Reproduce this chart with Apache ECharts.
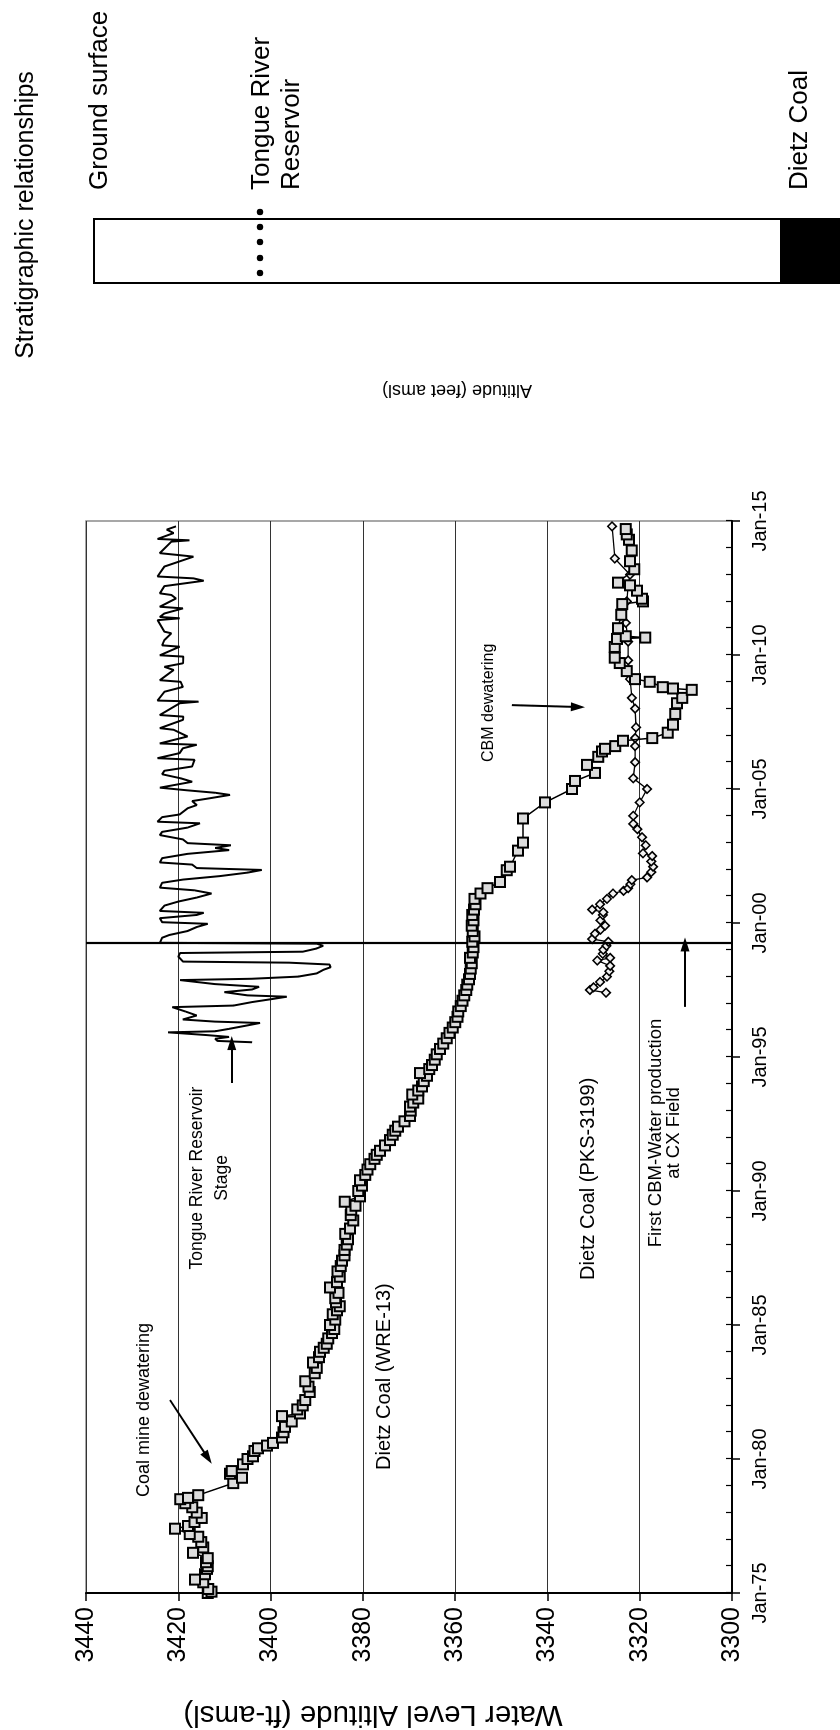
<!DOCTYPE html>
<html>
<head>
<meta charset="utf-8">
<script src="https://cdn.jsdelivr.net/npm/echarts@6/dist/echarts.min.js"></script>
<style>
html,body{margin:0;padding:0;background:#fff;width:840px;height:1730px;overflow:hidden;}
#rot{position:absolute;left:0;top:0;width:1730px;height:840px;transform-origin:0 0;transform:translate(0,1730px) rotate(-90deg);}
#chart{width:1730px;height:840px;}
</style>
</head>
<body>
<div id="rot"><div id="chart"></div></div>
<script>
// ---------- DATA (decimal year, altitude ft-amsl) ----------
const wre13 = [
[1975.00,3413.6],[1975.05,3412.8],[1975.15,3413.5],[1975.40,3414.6],[1975.50,3416.4],[1975.70,3414.2],[1975.90,3413.8],
[1976.00,3413.6],[1976.15,3414.0],[1976.30,3413.6],[1976.50,3416.8],[1976.70,3414.6],[1976.90,3415.0],[1977.10,3415.7],
[1977.20,3417.5],[1977.40,3420.7],[1977.50,3417.9],[1977.65,3416.5],[1977.80,3414.9],[1978.00,3416.0],[1978.20,3417.0],
[1978.35,3418.5],[1978.50,3419.6],[1978.55,3417.9],[1978.65,3415.7],[1979.10,3408.1],[1979.30,3406.2],[1979.45,3408.8],
[1979.55,3408.4],[1979.80,3406.0],[1980.00,3405.0],[1980.10,3403.8],[1980.30,3403.5],[1980.40,3402.7],[1980.50,3400.8],
[1980.60,3399.5],[1980.80,3397.5],[1981.00,3397.2],[1981.20,3396.9],[1981.40,3395.4],[1981.60,3397.5],[1981.70,3393.6],
[1981.85,3394.2],[1982.00,3393.0],[1982.20,3392.5],[1982.50,3391.5],[1982.70,3391.8],[1982.90,3392.5],[1983.20,3390.4],
[1983.40,3390.0],[1983.60,3390.8],[1983.80,3389.5],[1984.00,3389.3],[1984.15,3388.5],[1984.30,3387.8],[1984.50,3387.5],
[1984.70,3386.7],[1984.85,3386.2],[1985.00,3387.1],[1985.20,3386.0],[1985.40,3386.5],[1985.55,3385.6],[1985.70,3385.0],
[1985.85,3385.8],[1986.00,3386.0],[1986.20,3385.3],[1986.40,3387.1],[1986.60,3385.6],[1986.80,3385.0],[1987.00,3385.5],
[1987.20,3384.8],[1987.40,3384.5],[1987.60,3384.0],[1987.80,3384.0],[1988.00,3383.5],[1988.20,3383.2],[1988.40,3383.8],
[1988.60,3382.8],[1988.90,3382.1],[1989.10,3382.6],[1989.30,3382.5],[1989.45,3381.6],[1989.60,3383.9],[1989.80,3380.6],
[1990.00,3381.0],[1990.20,3380.2],[1990.40,3380.6],[1990.60,3379.5],[1990.80,3379.0],[1991.00,3378.4],[1991.20,3377.5],
[1991.35,3377.0],[1991.50,3376.3],[1991.70,3375.2],[1991.90,3374.1],[1992.10,3373.5],[1992.25,3373.0],[1992.40,3372.4],
[1992.60,3371.0],[1992.80,3369.8],[1993.00,3369.6],[1993.15,3369.8],[1993.30,3369.1],[1993.45,3368.0],[1993.60,3369.3],
[1993.75,3368.0],[1993.90,3367.2],[1994.10,3366.8],[1994.30,3366.1],[1994.40,3367.6],[1994.55,3365.6],[1994.70,3365.0],
[1994.90,3364.4],[1995.10,3364.0],[1995.30,3363.3],[1995.50,3362.6],[1995.70,3361.8],[1995.90,3361.2],[1996.10,3360.5],
[1996.30,3360.0],[1996.50,3359.5],[1996.70,3359.3],[1996.90,3358.8],[1997.10,3358.4],[1997.30,3358.0],[1997.50,3357.6],
[1997.70,3357.4],[1997.90,3357.0],[1998.10,3356.8],[1998.30,3356.6],[1998.50,3356.4],[1998.70,3356.8],[1998.90,3356.2],
[1999.10,3356.0],[1999.30,3356.3],[1999.50,3355.8],[1999.70,3356.2],[1999.90,3356.4],[2000.10,3356.0],[2000.30,3356.3],
[2000.50,3355.9],[2000.70,3355.6],[2000.90,3355.8],[2001.10,3354.5],[2001.30,3353.0],[2001.53,3350.3],[2001.97,3348.8],
[2002.10,3348.1],[2002.70,3346.4],[2003.00,3345.3],[2003.90,3345.3],[2004.50,3340.5],[2005.00,3334.7],[2005.30,3334.0],
[2005.60,3329.7],[2005.90,3331.4],[2006.20,3329.0],[2006.40,3328.2],[2006.50,3327.5],[2006.60,3325.3],[2006.80,3323.6],
[2006.90,3317.3],[2007.10,3313.9],[2007.40,3312.8],[2007.80,3312.3],[2008.20,3311.9],[2008.40,3310.8],[2008.70,3308.7],
[2008.75,3312.8],[2008.80,3315.0],[2009.00,3317.8],[2009.10,3321.0],[2009.40,3322.8],[2009.70,3324.3],[2009.90,3325.4],
[2010.30,3325.4],[2010.60,3324.9],[2010.65,3318.8],[2010.70,3323.0],[2011.00,3324.7],[2011.50,3324.0],[2011.90,3323.8],
[2012.00,3319.3],[2012.10,3319.5],[2012.40,3320.6],[2012.60,3322.1],[2012.70,3324.7],[2013.20,3321.2],[2013.50,3322.1],
[2013.90,3321.7],[2014.30,3322.3],[2014.50,3322.8],[2014.70,3323.0]
];
const pks3199 = [
[1997.40,3327.3],[1997.50,3330.8],[1997.60,3330.0],[1997.80,3328.6],[1998.00,3327.1],[1998.20,3326.6],[1998.40,3326.4],
[1998.60,3329.2],[1998.70,3326.4],[1998.85,3328.0],[1999.00,3327.9],[1999.15,3327.2],[1999.30,3326.8],[1999.40,3330.3],
[1999.60,3329.7],[1999.75,3328.5],[1999.90,3327.5],[2000.10,3328.5],[2000.30,3328.0],[2000.40,3327.9],[2000.50,3330.3],
[2000.70,3328.6],[2000.90,3327.1],[2001.10,3325.8],[2001.20,3323.5],[2001.30,3322.5],[2001.45,3322.0],[2001.60,3321.7],
[2001.70,3318.4],[2001.90,3317.5],[2002.10,3317.1],[2002.30,3317.5],[2002.50,3317.3],[2002.60,3319.3],[2002.90,3318.7],
[2003.20,3319.5],[2003.50,3320.5],[2003.70,3321.4],[2004.00,3321.4],[2004.50,3320.0],[2005.00,3318.4],[2005.40,3321.4],
[2006.00,3321.0],[2006.60,3321.0],[2006.90,3321.0],[2007.30,3320.8],[2008.00,3321.0],[2008.40,3321.7],[2009.10,3322.1],
[2009.80,3322.5],[2010.50,3322.5],[2011.20,3323.0],[2012.00,3322.8],[2012.60,3322.5],[2013.00,3322.1],[2013.60,3325.4],
[2014.80,3326.0]
];
const stage = [
[1995.55,3404],[1995.60,3411.5],[1995.68,3412],[1995.75,3409],[1995.82,3414],[1995.92,3422.2],[1995.96,3412],[1996.05,3409],
[1996.18,3405],[1996.27,3402.3],[1996.32,3412],[1996.40,3419],[1996.55,3416],[1996.70,3418.5],[1996.86,3421.3],[1996.92,3408],
[1997.05,3404],[1997.18,3399],[1997.25,3396.5],[1997.30,3405],[1997.42,3410],[1997.52,3404],[1997.62,3402.5],[1997.72,3412],
[1997.87,3419.6],[1997.92,3404],[1998.00,3394],[1998.12,3390],[1998.25,3388.6],[1998.35,3387],[1998.45,3387.2],[1998.52,3396],
[1998.56,3419],[1998.75,3420],[1998.88,3419.6],[1998.93,3393],[1999.05,3390],[1999.15,3388.6],[1999.23,3390],
[1999.26,3424],[1999.45,3423.5],[1999.55,3422],[1999.70,3418],[1999.85,3416],[1999.97,3413.6],[2000.03,3423.5],[2000.18,3424],
[2000.30,3416],[2000.38,3414.5],[2000.45,3424],[2000.65,3423],[2000.80,3420],[2000.95,3416],[2001.10,3412.8],[2001.22,3416.5],
[2001.32,3424],[2001.50,3423.5],[2001.62,3419],[2001.75,3411],[2001.88,3405],[2001.98,3401.9],[2002.05,3416],[2002.18,3417],
[2002.26,3424],[2002.42,3423.5],[2002.58,3418],[2002.72,3409],[2002.80,3412],[2002.90,3408.6],[2002.98,3418],[2003.12,3419],
[2003.28,3424],[2003.40,3423.5],[2003.56,3418],[2003.72,3415.3],[2003.78,3424.5],[2003.95,3423.5],[2004.05,3419.7],[2004.28,3418],
[2004.40,3416],[2004.55,3417],[2004.66,3413],[2004.78,3408.8],[2004.86,3412],[2004.95,3418],[2005.05,3424],[2005.27,3417],
[2005.40,3419.5],[2005.55,3423.5],[2005.68,3423],[2005.84,3417],[2006.09,3416.5],[2006.15,3424.5],[2006.34,3419.7],[2006.52,3419],
[2006.65,3416],[2006.70,3424],[2006.96,3418],[2007.21,3421],[2007.27,3424],[2007.58,3419],[2007.70,3418.9],[2007.76,3424],
[2008.20,3419.7],[2008.26,3415.6],[2008.30,3424.5],[2008.63,3423],[2008.81,3419],[2009.00,3419.5],[2009.06,3424],[2009.44,3421],
[2009.56,3423],[2009.69,3419],[2009.94,3418.9],[2009.99,3424],[2010.31,3419.7],[2010.36,3423.5],[2010.56,3423],[2010.81,3421.5],
[2010.87,3423],[2011.30,3424.5],[2011.37,3419.7],[2011.42,3424],[2011.55,3423],[2011.74,3419],[2011.80,3424],[2012.11,3420.5],
[2012.24,3421.5],[2012.30,3424],[2012.57,3423],[2012.77,3414.5],[2012.86,3416.7],[2012.93,3424.5],[2013.30,3423],[2013.67,3416.7],
[2013.73,3420],[2013.80,3424],[2014.23,3421.5],[2014.28,3417.6],[2014.33,3424.5],[2014.55,3421],[2014.68,3422.5],[2014.80,3420.5]
];
const firstCbmYear = 1999.25;
const timeTicks = [1975,1980,1985,1990,1995,2000,2005,2010,2015];
const timeTickLabels = ['Jan-75','Jan-80','Jan-85','Jan-90','Jan-95','Jan-00','Jan-05','Jan-10','Jan-15'];
const altTicks = [3300,3320,3340,3360,3380,3400,3420,3440];
// arrows: [tail, head] in data coordinates
const arrows = [
  [[1982.20,3421.8],[1980.04,3413.6]],   // coal mine dewatering
  [[1994.03,3408.4],[1995.52,3408.4]],   // reservoir stage
  [[2008.13,3347.7],[2008.06,3333.4]],   // CBM dewatering
  [[1996.87,3310.2],[1999.20,3310.2]]    // first CBM water production
];

const FONT = '"Liberation Sans", Arial, sans-serif';
const chart = echarts.init(document.getElementById('chart'), null, {renderer:'canvas'});

function txt(text, x, y, size, opts) {
  opts = opts || {};
  return {
    type:'text', x:x, y:y, rotation: opts.rotation || 0,
    scaleX: opts.scaleX || 1,
    style:{text:text, fontSize:size, fontFamily:FONT, fill:'#000',
      textAlign: opts.align || 'left', textVerticalAlign:'middle',
      lineHeight: opts.lineHeight || size*1.15}
  };
}

const graphics = [
  // y axis title
  txt('Water Level Altitude (ft-amsl)', 16, 373, 29.5, {align:'center', rotation:Math.PI/2}),
  // annotations
  txt('Coal mine dewatering', 233, 144, 18),
  txt('Tongue River Reservoir\nStage', 552, 210, 17.5, {align:'center', lineHeight:25}),
  txt('Dietz Coal (WRE-13)', 260, 384, 20),
  txt('Dietz Coal (PKS-3199)', 450, 588, 20),
  txt('First CBM-Water production\nat CX Field', 597, 665, 18.5, {align:'center', lineHeight:18}),
  txt('CBM dewatering', 968, 489, 16),
  // stratigraphic panel
  txt('Stratigraphic relationships', 1515, 26, 25, {align:'center'}),
  txt('Altitude (feet amsl)', 1340, 457, 18, {align:'center', rotation:Math.PI/2}),
  {type:'rect', shape:{x:1447, y:94, width:64, height:760}, style:{fill:'#fff', stroke:'#000', lineWidth:2}},
  {type:'rect', shape:{x:1447, y:781, width:64, height:70}, style:{fill:'#000', stroke:'#000', lineWidth:2}},
  txt('Ground surface', 1540, 100, 26),
  txt('Tongue River\nReservoir', 1540, 277, 26, {lineHeight:30}),
  txt('Dietz Coal', 1540, 800, 26)
];
[1457,1472,1488,1503,1518].forEach(function(x){
  graphics.push({type:'circle', shape:{cx:x, cy:260, r:3.2}, style:{fill:'#000'}});
});

const option = {
  animation:false,
  backgroundColor:'#fff',
  grid:{left:137, top:86, width:1072, height:646, show:true, borderColor:'#8a8a8a', borderWidth:1.5, backgroundColor:'transparent'},
  xAxis:[
    {type:'value', min:1975, max:2015, interval:5, position:'bottom',
     axisLine:{show:true, onZero:false, lineStyle:{color:'#000', width:2}},
     axisTick:{show:true, inside:false, length:8, lineStyle:{color:'#000', width:1.5}},
     axisLabel:{color:'#000', fontSize:20, fontFamily:FONT, margin:18,
       formatter:function(v){ const i = timeTicks.indexOf(v); return i>=0 ? timeTickLabels[i] : ''; }},
     splitLine:{show:false}},
    {type:'value', min:1975, max:2015, interval:1, position:'bottom',
     axisLine:{show:false, onZero:false},
     axisTick:{show:true, inside:true, length:6, lineStyle:{color:'#000', width:1.2}},
     axisLabel:{show:false}, splitLine:{show:false}}
  ],
  yAxis:{type:'value', min:3300, max:3440, interval:20,
     axisLine:{show:true, onZero:false, lineStyle:{color:'#000', width:2}},
     axisTick:{show:true, inside:false, length:8, lineStyle:{color:'#000', width:1.5}},
     axisLabel:{color:'#000', fontSize:25, fontFamily:FONT, margin:14,
       formatter:function(v){ return altTicks.indexOf(v)>=0 ? String(v) : ''; }},
     splitLine:{show:true, lineStyle:{color:'#333', width:1}}},
  series:[
    {name:'Tongue River Reservoir Stage', type:'line', data:stage, showSymbol:false, symbol:'none',
     lineStyle:{color:'#000', width:2}, z:3,
     markLine:{silent:true, symbol:['none','none'], label:{show:false},
       lineStyle:{color:'#000', width:2.2, type:'solid'},
       data:[{xAxis:firstCbmYear}]}},
    {name:'Dietz Coal (PKS-3199)', type:'line', data:pks3199, symbol:'diamond', symbolSize:8.5,
     itemStyle:{color:'#f2f2f2', borderColor:'#000', borderWidth:1.6},
     lineStyle:{color:'#000', width:1.3}, z:4},
    {name:'Dietz Coal (WRE-13)', type:'line', data:wre13, symbol:'rect', symbolSize:10,
     itemStyle:{color:'#dcdcdc', borderColor:'#000', borderWidth:2},
     lineStyle:{color:'#000', width:1.5}, z:5},
    {name:'arrows', type:'line', data:[], z:6,
     markLine:{silent:true, symbol:['none','triangle'], symbolSize:[9,14], label:{show:false},
       lineStyle:{color:'#000', width:2, type:'solid'},
       data: arrows.map(function(a){ return [{coord:a[0]},{coord:a[1]}]; })}}
  ],
  graphic:graphics
};
chart.setOption(option);
</script>
</body>
</html>
